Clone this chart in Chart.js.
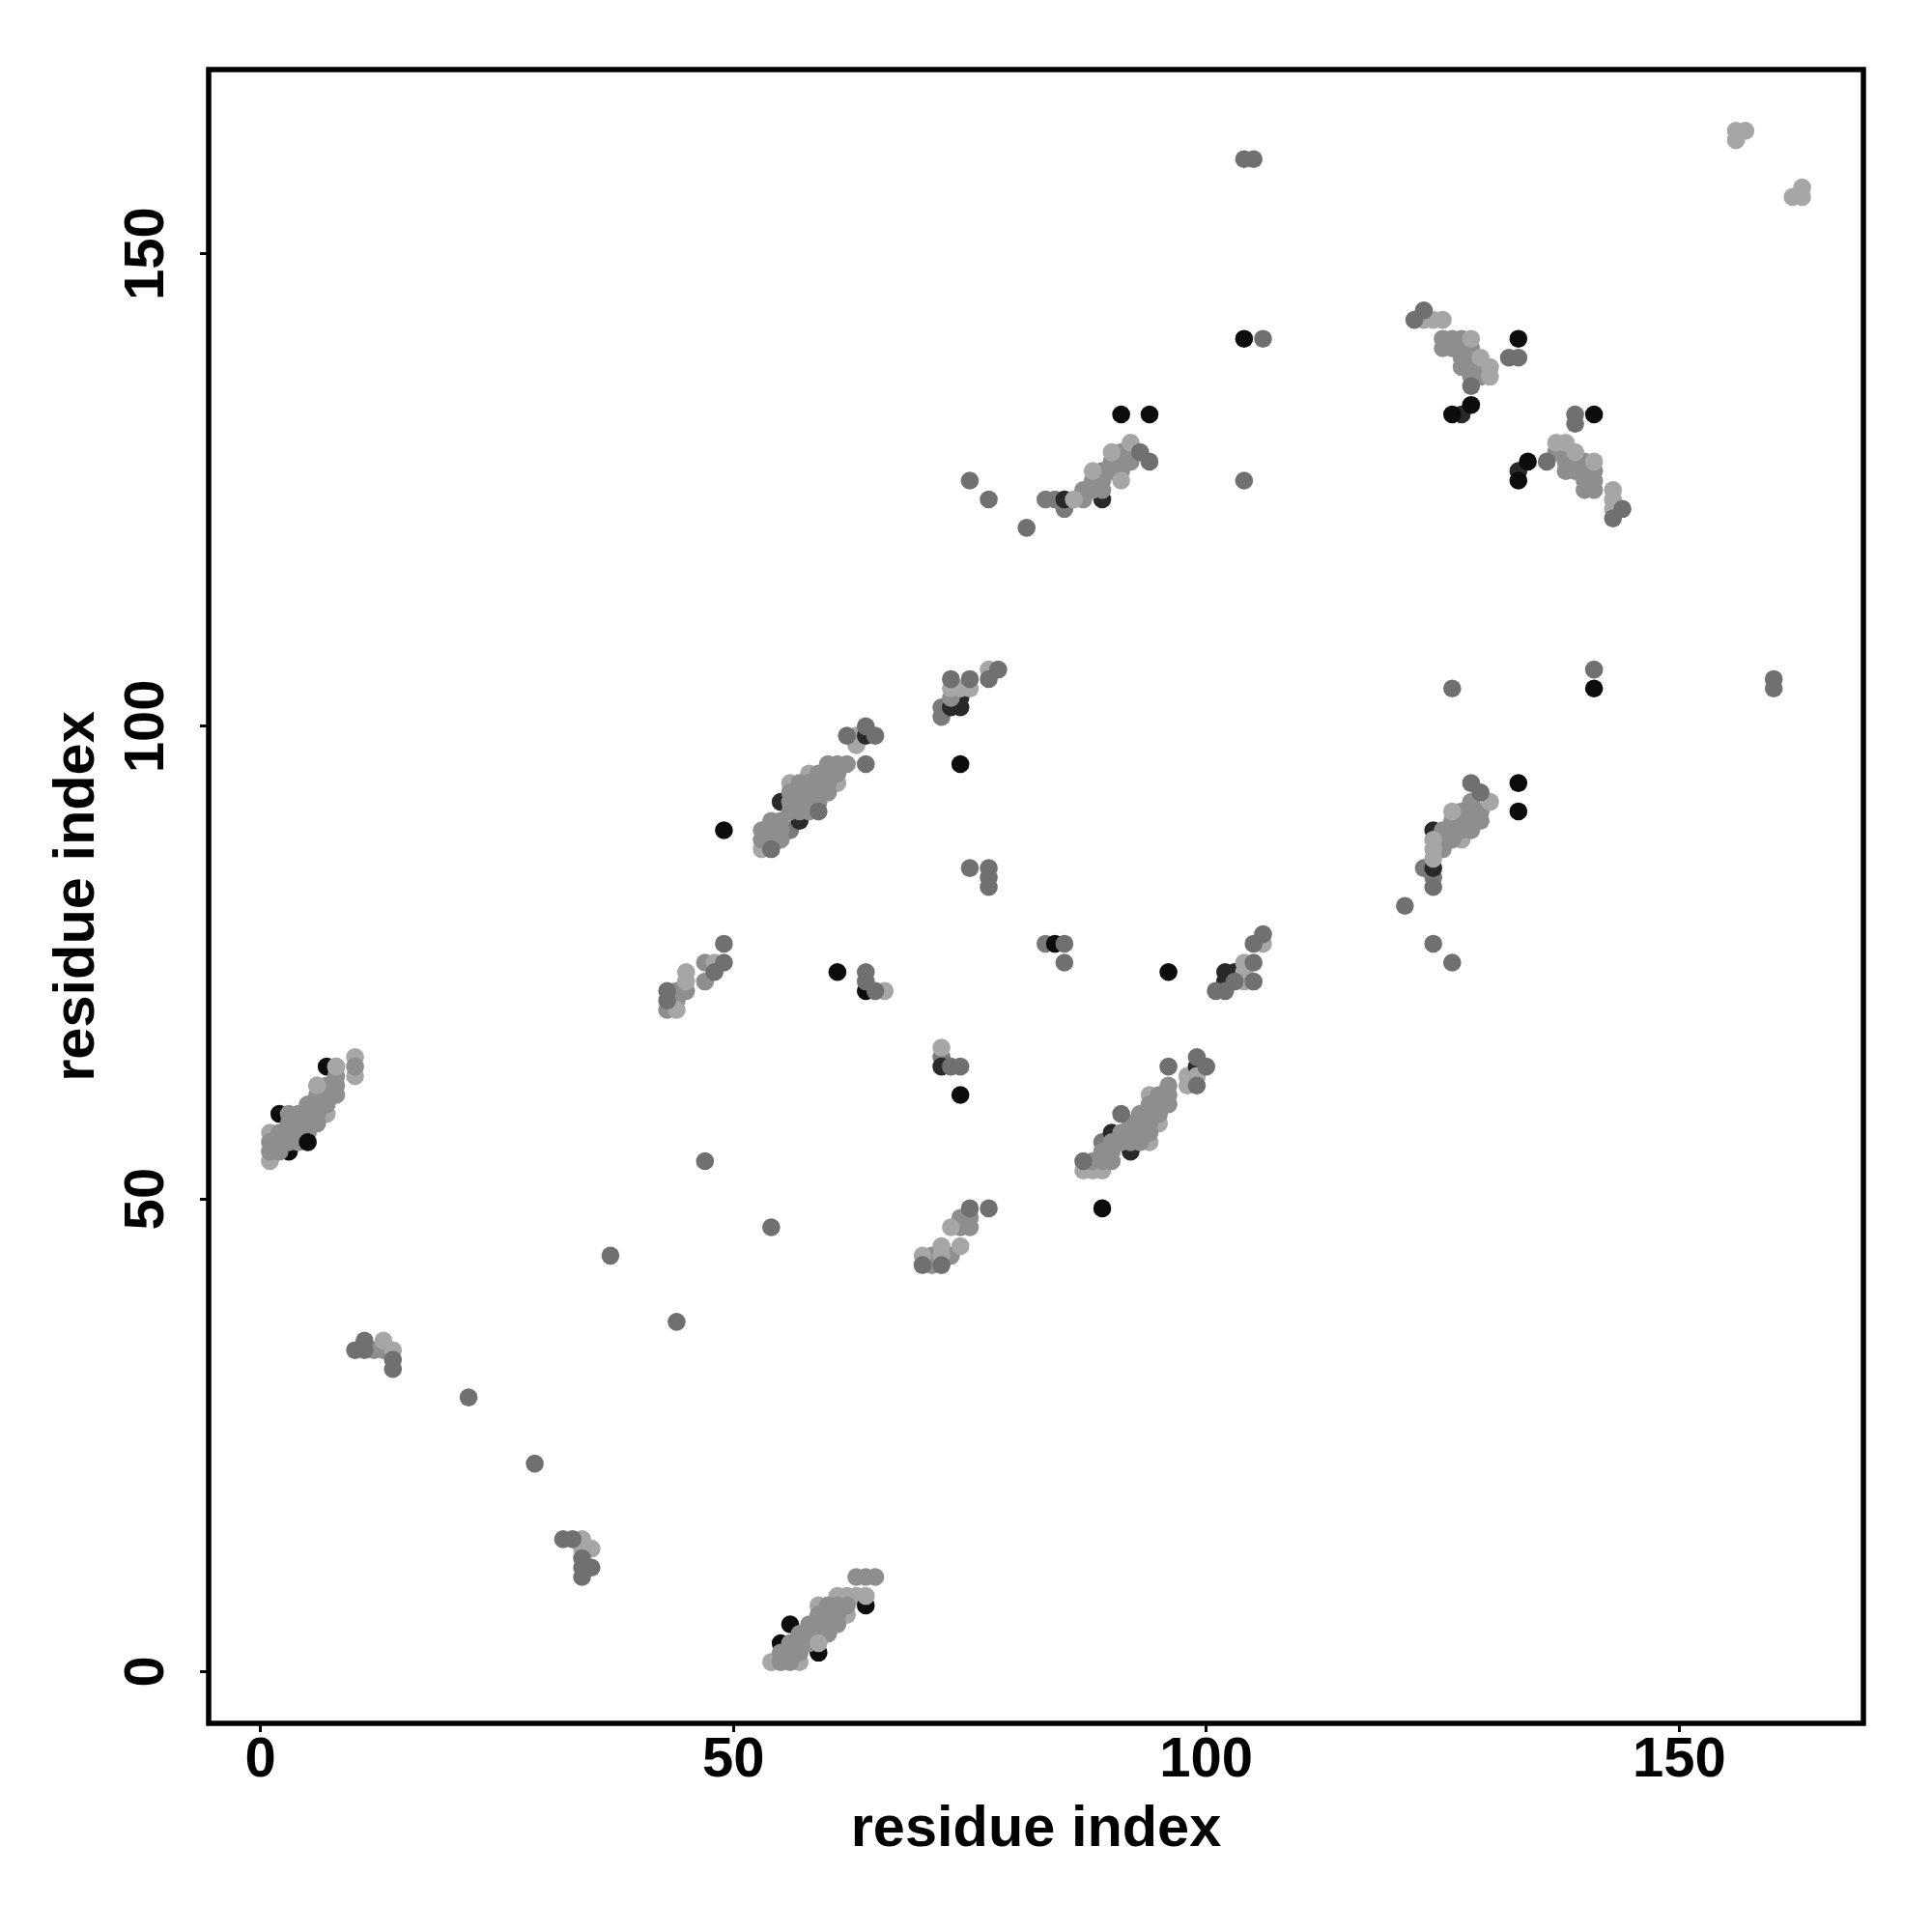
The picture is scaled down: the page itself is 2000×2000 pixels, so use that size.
<!DOCTYPE html>
<html>
<head>
<meta charset="utf-8">
<title>residue contacts</title>
<script src="https://cdn.jsdelivr.net/npm/chart.js@4/dist/chart.umd.min.js"></script>
<style>
  html, body { margin: 0; padding: 0; background: #fff; }
  canvas { display: block; }
</style>
</head>
<body>
<canvas id="contactChart" width="2000" height="2000"></canvas>
<script>
// axis labels and ticks
const axisTitle = 'residue index'
const tickValues = [0, 50, 100, 150]
const axisMin = -5.48
const axisMax = 169.48

// points, [x, y], one list per grey level and layer
const underPoints = [
  [56,89],[89,56],[85,123],[83,124],[84,124],[124,84],[123,85],[83,77],[72,102],[72,101],[72,65]
]
const lightUnder = [
  [1,57],[1,54],[10,65],[10,63],[7,59],[54,1],[57,1],[59,7],[62,6],[61,8],[62,8],[63,8],
  [53,87],[58,95],[56,94],[61,94],[87,53],[88,53],[89,53],[94,56],[95,58],[94,61],[98,63],[98,62],
  [127,88],[63,99],[63,98]
]
const charcoalPoints = [
  [89,124],[85,124],[124,85],[124,89],[74,103],[74,102],[103,74],[102,74],[102,73],[73,102],[64,99],[99,64],[57,90],[55,92],[90,57],[92,55],[127,133],[133,127],[72,64]
]
const blackPoints = [
  [2,59],[3,55],[7,64],[56,5],[55,3],[59,2],[64,7],[89,49],
  [133,141],[128,134],[126,133],[134,128],[133,126],[141,133],[141,104],[91,133],[94,133],
  [133,94],[133,91],[104,141],[74,96],[49,89],[84,77],[96,74],[61,74],[64,72],[74,61]
]
const midPoints = [
  [1,56],[1,55],[2,55],[2,56],[2,57],[3,56],[3,57],[3,58],[3,59],[4,56],[4,57],[4,58],[4,59],[5,57],[5,58],[5,59],[5,60],
  [6,58],[6,59],[6,60],[6,61],[6,62],[7,60],[7,61],[7,62],[8,61],[8,62],[8,63],[8,64],[10,64],
  [55,1],[56,1],[55,2],[56,2],[56,3],[57,2],[57,3],[57,4],[58,3],[58,4],[58,5],[59,4],[59,5],[59,6],[60,4],[60,5],[60,6],[60,7],
  [61,5],[61,6],[61,7],[62,7],[63,10],[64,10],[65,10],
  [53,88],[53,89],[54,88],[54,89],[54,90],[55,88],[55,89],[55,90],[56,91],[56,92],[56,93],[57,91],[57,92],[57,93],[57,94],
  [58,91],[58,92],[58,93],[58,94],[59,92],[59,93],[59,94],[59,95],[60,93],[60,94],[60,95],[60,96],[61,95],[61,96],[62,96],
  [88,54],[89,54],[89,55],[90,54],[90,55],[90,56],[91,56],[91,57],[92,56],[92,57],[92,58],[93,56],[93,57],[93,58],[93,59],
  [94,57],[94,58],[94,59],[94,60],[95,59],[95,60],[95,61],[96,60],[96,61],[96,62],
  [125,141],[125,140],[126,141],[126,140],[127,141],[127,140],[127,139],[127,138],[128,140],[128,139],[128,138],[128,137],[129,138],[129,137],
  [137,129],[138,129],[138,128],[138,127],[139,128],[139,127],[140,128],[140,127],[140,126],[140,125],[141,127],[141,126],[141,125],
  [87,125],[87,124],[88,125],[88,126],[89,125],[89,126],[89,127],[90,127],[90,128],[91,127],[91,128],[91,129],[92,128],[92,129],
  [125,89],[125,88],[125,87],[126,90],[126,89],[126,88],[127,91],[127,90],[127,89],[128,92],[128,91],[128,90],[128,89],[129,91],[129,90],
  [43,70],[44,71],[44,72],[45,72],[47,73],[47,75],[71,43],[71,44],[73,44],[74,48],[74,47],[75,47],[75,48],[13,34],[12,34],[73,103]
]
const blackOver = [[5,56]]
const lightOver = [
  [6,62],[8,64],[90,129],[92,130],[91,126],[88,127],[124,143],[125,143],[123,143],[128,141],[129,139],[130,138],[130,137],
  [126,91],[130,92],[137,130],[138,130],[139,129],[141,128],[143,125],[143,124],[143,123],[99,63],
  [73,104],[74,104],[75,104],[77,106],[104,75],[104,74],[104,73],[106,77],[66,72],[44,70],[45,73],[45,74],[48,75],[72,66],[70,44],[72,44],[72,45],[74,45],[73,47],
  [13,35],[14,34],[34,14],[34,13],[35,13],[156,162],[156,163],[157,163],[163,157],[163,156],[162,156],
  [59,3],[64,8],[86,124],[124,86],[124,87],[124,88]
]
const darkPoints = [
  [59,91],[54,87],[64,96],[62,99],[64,100],[65,99],[91,59],[87,54],[96,64],[99,65],[100,64],[99,62],
  [122,143],[123,144],[132,139],[133,139],[128,136],[136,128],[143,122],[144,123],[139,133],[139,132],
  [93,129],[94,128],[128,94],[129,93],[124,83],[121,81],[124,77],[126,75],[126,104],
  [104,160],[105,160],[106,141],[104,126],[75,126],[77,124],[81,121],[141,106],[160,105],[160,104],
  [73,105],[75,105],[77,105],[78,106],[75,85],[77,85],[77,84],[77,83],
  [85,77],[85,75],[101,72],[102,72],[103,73],[105,73],[105,75],[105,77],[106,78],
  [64,74],[64,73],[65,72],[43,72],[43,71],[48,74],[49,75],[49,77],[73,64],[74,64],
  [70,43],[72,43],[75,49],[77,49],[47,54],[54,47],[37,44],[44,37],[22,29],[29,22],
  [10,34],[11,34],[11,35],[14,33],[14,32],[32,14],[33,14],[34,12],[34,11],[35,11],[34,10]
]

const fontFamily = '"Liberation Sans", Arial, sans-serif'

function toXY(list) {
  return list.map(p => ({ x: p[0], y: p[1] }))
}

function makeSeries(label, list, color) {
  return {
    label: label,
    data: toXY(list),
    backgroundColor: color,
    borderWidth: 0,
    pointRadius: 9.3,
    pointHoverRadius: 9.3
  }
}

// box around the plot area
const framePlugin = {
  id: 'frame',
  afterDraw(chart) {
    const a = chart.chartArea
    const ctx = chart.ctx
    ctx.save()
    ctx.strokeStyle = '#000'
    ctx.lineWidth = 5.5
    ctx.lineJoin = 'miter'
    ctx.strokeRect(a.left, a.top, a.right - a.left, a.bottom - a.top)
    ctx.restore()
  }
}

function axisOptions(isY) {
  return {
    type: 'linear',
    min: axisMin,
    max: axisMax,
    afterBuildTicks: scale => { scale.ticks = tickValues.map(v => ({ value: v })) },
    afterFit: scale => {
      if (isY) scale.width = 216
      else scale.height = 216
    },
    grid: { drawOnChartArea: false, drawTicks: true, tickLength: 9, tickWidth: 3, tickColor: '#000' },
    border: { display: false },
    ticks: {
      color: '#000',
      font: { family: fontFamily, size: 58, weight: 'bold' },
      autoSkip: false,
      minRotation: isY ? 90 : 0,
      maxRotation: isY ? 90 : 0,
      padding: isY ? 6 : -5,
      crossAlign: isY ? 'center' : 'near'
    },
    title: {
      display: true,
      text: axisTitle,
      color: '#000',
      font: { family: fontFamily, size: 59.5, weight: 'bold' },
      padding: isY ? { top: 44.5 } : { bottom: 70 }
    }
  }
}

// first dataset is drawn on top
new Chart(document.getElementById('contactChart'), {
  type: 'scatter',
  data: {
    datasets: [
      makeSeries('dark', darkPoints, '#707070'),
      makeSeries('light over', lightOver, '#a6a6a6'),
      makeSeries('black over', blackOver, '#0c0c0c'),
      makeSeries('mid', midPoints, '#8e8e8e'),
      makeSeries('black', blackPoints, '#0c0c0c'),
      makeSeries('charcoal', charcoalPoints, '#292929'),
      makeSeries('light under', lightUnder, '#a6a6a6'),
      makeSeries('under', underPoints, '#7a7a7a')
    ]
  },
  options: {
    responsive: false,
    animation: false,
    layout: { padding: { top: 72, right: 71, left: 0, bottom: 0 } },
    plugins: { legend: { display: false }, tooltip: { enabled: false } },
    scales: { x: axisOptions(false), y: axisOptions(true) }
  },
  plugins: [framePlugin]
})
</script>
</body>
</html>
